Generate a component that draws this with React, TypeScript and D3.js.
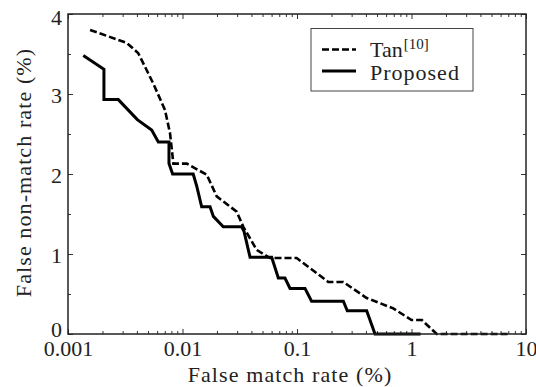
import { useEffect, useRef } from 'react';
import * as d3 from 'd3';

// ---- data (false match rate %, false non-match rate %) ----
const tanFmr = [
  0.00156, 0.00325, 0.00411, 0.00556, 0.00703, 0.00778, 0.00832, 0.0109, 0.0163, 0.0199, 0.0251,
  0.0297, 0.034, 0.0445, 0.058, 0.0993, 0.1876, 0.254, 0.406, 0.693, 1.0, 1.23, 1.66, 6.9,
];
const tanFnmr = [
  3.8, 3.64, 3.51, 3.13, 2.8, 2.51, 2.13, 2.13, 1.99, 1.72, 1.61, 1.53, 1.34, 1.05, 0.95, 0.95,
  0.65, 0.65, 0.45, 0.32, 0.175, 0.175, 0.0, 0.0,
];

const proposedFmr = [
  0.00136, 0.00206, 0.00206, 0.00275, 0.00403, 0.00538, 0.00615, 0.00762, 0.00762, 0.0082, 0.0124,
  0.0133, 0.0147, 0.0174, 0.0186, 0.0227, 0.0329, 0.0345, 0.0389, 0.0601, 0.0687, 0.0785, 0.0869,
  0.1175, 0.134, 0.254, 0.275, 0.406, 0.48, 1.2,
];
const proposedFnmr = [
  3.48, 3.31, 2.93, 2.93, 2.68, 2.55, 2.4, 2.4, 2.13, 2.0, 2.0, 1.85, 1.59, 1.59, 1.47, 1.34, 1.34,
  1.28, 0.96, 0.96, 0.7, 0.7, 0.57, 0.57, 0.41, 0.41, 0.29, 0.29, 0.0, 0.0,
];

const xTicks = [0.001, 0.01, 0.1, 1, 10];
const xTickLabels = ['0.001', '0.01', '0.1', '1', '10'];
const yTicks = [0, 1, 2, 3, 4];
const yMinorTicks = [0.5, 1.5, 2.5, 3.5];

const FONT = 'Liberation Serif, serif';

const App = () => {
  const svgRef = useRef<SVGSVGElement>(null);

  useEffect(() => {
    const width = 536;
    const height = 387;
    const margin = { top: 14, right: 10, bottom: 53, left: 68 };
    const svg = d3.select(svgRef.current);
    svg.selectAll('*').remove();

    const x = d3
      .scaleLog()
      .domain([0.001, 10])
      .range([margin.left, width - margin.right]);
    const y = d3
      .scaleLinear()
      .domain([0, 4])
      .range([height - margin.bottom, margin.top]);

    const x0 = margin.left;
    const x1 = width - margin.right;
    const y0 = height - margin.bottom;
    const y1 = margin.top;

    // minor x ticks (2..9 of each decade)
    const xMinor: number[] = [];
    for (let d = 0.001; d < 10; d *= 10) {
      for (let k = 2; k <= 9; k++) xMinor.push(+(d * k).toPrecision(3));
    }

    const tickColor = '#333';

    const ticksOnly = (axis: d3.Axis<any>, tx: number, ty: number) => {
      svg
        .append('g')
        .attr('transform', `translate(${tx},${ty})`)
        .call(axis.tickFormat(() => '').tickSizeOuter(0))
        .call((g) => g.select('.domain').remove())
        .selectAll('line')
        .attr('stroke', tickColor);
    };

    // bottom axis with labels
    const bottom = svg
      .append('g')
      .attr('transform', `translate(0,${y0})`)
      .call(
        d3
          .axisBottom(x)
          .tickValues(xTicks)
          .tickFormat((_, i) => xTickLabels[i])
          .tickSizeInner(-5)
          .tickSizeOuter(0)
          .tickPadding(6)
      );
    bottom.select('.domain').remove();
    bottom
      .selectAll('text')
      .style('font-family', FONT)
      .style('font-size', '22px')
      .attr('fill', '#222');
    bottom.selectAll('line').attr('stroke', tickColor);

    ticksOnly(d3.axisBottom(x).tickValues(xMinor).tickSizeInner(-3), 0, y0);
    ticksOnly(d3.axisTop(x).tickValues(xTicks).tickSizeInner(-5), 0, y1);
    ticksOnly(d3.axisTop(x).tickValues(xMinor).tickSizeInner(-3), 0, y1);

    // left axis
    const left = svg
      .append('g')
      .attr('transform', `translate(${x0},0)`)
      .call(
        d3
          .axisLeft(y)
          .tickValues(yTicks)
          .tickFormat(d3.format('d'))
          .tickSizeInner(-5)
          .tickSizeOuter(0)
          .tickPadding(6)
      );
    left.select('.domain').remove();
    left
      .selectAll('text')
      .style('font-family', FONT)
      .style('font-size', '22px')
      .attr('dy', (d: any) => (d === 0 ? '2px' : d === 4 ? '10px' : '8.5px'))
      .attr('fill', '#222');
    left.selectAll('line').attr('stroke', tickColor);

    ticksOnly(d3.axisLeft(y).tickValues(yMinorTicks).tickSizeInner(-3), x0, 0);
    ticksOnly(d3.axisRight(y).tickValues(yTicks).tickSizeInner(-5), x1, 0);
    ticksOnly(d3.axisRight(y).tickValues(yMinorTicks).tickSizeInner(-3), x1, 0);

    // curves
    const line = d3
      .line<[number, number]>()
      .x((d) => x(d[0]))
      .y((d) => y(d[1]));

    const tanPts = tanFmr.map((v, i) => [v, tanFnmr[i]] as [number, number]);
    const propPts = proposedFmr.map((v, i) => [v, proposedFnmr[i]] as [number, number]);

    svg
      .append('path')
      .attr('d', line(tanPts))
      .attr('fill', 'none')
      .attr('stroke', '#000')
      .attr('stroke-width', 2.6)
      .attr('stroke-dasharray', '7,3');

    svg
      .append('path')
      .attr('d', line(propPts))
      .attr('fill', 'none')
      .attr('stroke', '#000')
      .attr('stroke-width', 3);

    // frame
    svg
      .append('rect')
      .attr('x', x0)
      .attr('y', y1)
      .attr('width', x1 - x0)
      .attr('height', y0 - y1)
      .attr('fill', 'none')
      .attr('stroke', '#222')
      .attr('stroke-width', 1.5);

    // legend
    const lg = svg.append('g');
    lg.append('rect')
      .attr('x', 311)
      .attr('y', 28.5)
      .attr('width', 162)
      .attr('height', 62.5)
      .attr('fill', '#fff')
      .attr('stroke', '#444')
      .attr('stroke-width', 1);
    lg.append('line')
      .attr('x1', 322)
      .attr('x2', 356)
      .attr('y1', 49.5)
      .attr('y2', 49.5)
      .attr('stroke', '#000')
      .attr('stroke-width', 2.6)
      .attr('stroke-dasharray', '7,3');
    lg.append('line')
      .attr('x1', 322)
      .attr('x2', 356)
      .attr('y1', 71)
      .attr('y2', 71)
      .attr('stroke', '#000')
      .attr('stroke-width', 3);
    const t1 = lg
      .append('text')
      .attr('x', 370)
      .attr('y', 57)
      .style('font-family', FONT)
      .style('font-size', '22px')
      .attr('fill', '#222');
    t1.append('tspan').text('Tan');
    t1.append('tspan').attr('dy', -8).attr('dx', 1).style('font-size', '15px').text('[10]');
    lg.append('text')
      .attr('x', 370)
      .attr('y', 79.5)
      .style('font-family', FONT)
      .style('font-size', '22px')
      .style('letter-spacing', '1px')
      .attr('fill', '#222')
      .text('Proposed');

    // axis titles
    svg
      .append('text')
      .attr('x', 290)
      .attr('y', 381.5)
      .attr('text-anchor', 'middle')
      .style('font-family', FONT)
      .style('font-size', '22px')
      .style('letter-spacing', '1.1px')
      .attr('fill', '#222')
      .text('False match rate (%)');
    svg
      .append('text')
      .attr('transform', `translate(31,172.5) rotate(-90)`)
      .attr('text-anchor', 'middle')
      .style('font-family', FONT)
      .style('font-size', '22px')
      .style('letter-spacing', '1.1px')
      .attr('fill', '#222')
      .text('False non-match rate (%)');
  }, []);

  return (
    <svg
      ref={svgRef}
      width={536}
      height={387}
      viewBox="0 0 536 387"
      style={{ position: 'absolute', left: 0, top: 0, background: '#fff' }}
    />
  );
};

export default App;
